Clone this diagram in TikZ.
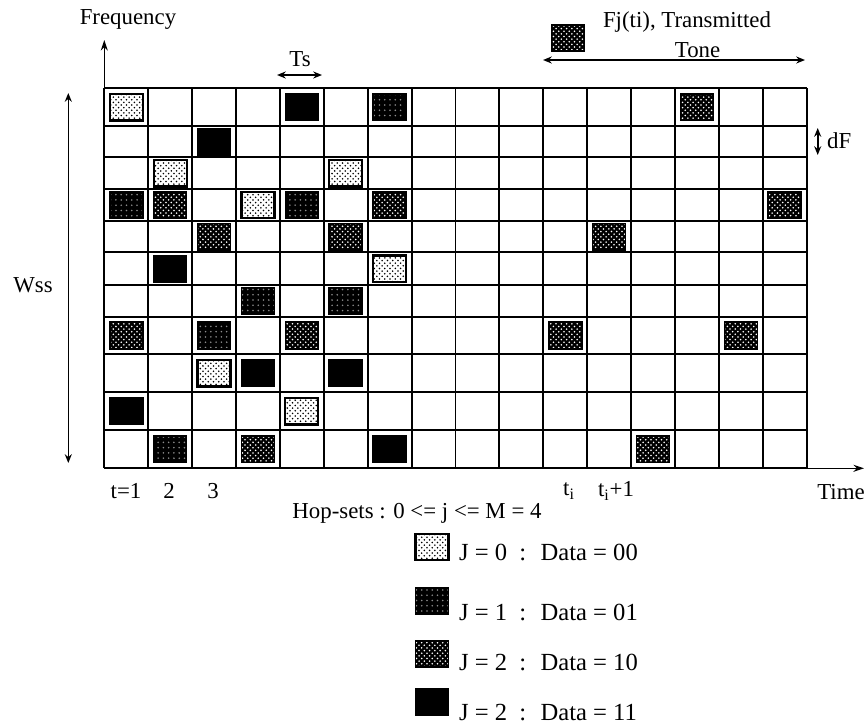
\documentclass[tikz,border=0pt]{standalone}
\usepackage{fontspec}
\setmainfont{Liberation Serif}
\usetikzlibrary{arrows.meta,patterns}

% place tones of one kind at (column/row) cells
\newcommand\tonesat[2]{%
  \foreach \c/\r in {#2} {%
    \pgfmathsetmacro\xm{104.3+43.9*(\c-0.5)}%
    \pgfmathsetmacro\ym{{107.15,141.65,173.15,205,236.65,268.65,300.85,335.5,373.3,411.15,449.15}[\r-1]}%
    \node[#1] (#1-\c-\r) at (\xm,\ym) {};
  }}

\begin{document}
\begin{tikzpicture}[x=0.02cm,y=-0.02cm,
			lbl/.style={
				font=\fontsize{13}{17}\selectfont,
				inner sep=1pt
			},
			leglbl/.style={
				lbl,
				anchor=west,
				font=\fontsize{14}{17}\selectfont
			},
			gridline/.style={
				line width=1.1pt
			},
			axis/.style={
				-{Stealth[length=6pt,width=4pt]},
				line width=0.7pt
			},
			span/.style={
				{Stealth[length=5pt,width=4pt]}-{Stealth[length=5pt,width=4pt]},
				line width=0.9pt
			},
			tone/.style={
				draw=black,
				line width=0.9pt,
				inner sep=0pt,
				minimum width=0.66cm,
				minimum height=0.53cm
			},
			toneA/.style={tone,line width=1.3pt,preaction={fill=white},pattern=crosshatch dots,pattern color=black},
			toneB/.style={tone,preaction={fill=black},pattern=dots,pattern color=black!45},
			toneC/.style={tone,preaction={fill=black},pattern=crosshatch dots,pattern color=white},
			toneD/.style={tone,fill=black}
			]
			
			\useasboundingbox (0,0) rectangle (865,727);
			
			% Grid
			\foreach \i in {0,...,16}
			\draw[gridline] ({104.3+43.9*\i},88.3) -- ({104.3+43.9*\i},468.3);
			\foreach \y in {88.3,126,157.3,189,221,252.3,285,316.7,354.3,392.3,430,468.3}
			\draw[gridline] (104.3,\y) -- (806.7,\y);
			
			% Tones
			\tonesat{toneA}{1/1,2/3,6/3,4/4,7/6,3/9,5/10}
			\tonesat{toneB}{7/1,1/4,5/4,4/7,6/7,3/8,2/11}
			\tonesat{toneC}{14/1,2/4,7/4,16/4,3/5,6/5,12/5,1/8,5/8,11/8,15/8,4/11,13/11}
			\tonesat{toneD}{5/1,3/2,2/6,4/9,6/9,1/10,7/11}
			
			% Axes
			\coordinate (origin) at (104.3,468.3);
			\coordinate (fmax) at (104.3,40);
			\coordinate (tmax) at (864,468.3);
			\draw[axis] (origin) -- (fmax);
			\draw[axis] (origin) -- (tmax);
			\node[lbl] (freq) at (128,19) {Frequency};
			\node[lbl] (time) at (841,492) {Time};
			
			% Bandwidth
			\coordinate (wsstop) at (68.3,93);
			\coordinate (wssbot) at (68.3,463);
			\draw[span] (wsstop) -- (wssbot);
			\node[lbl] (wss) at (33,285) {Wss};
			
			% Symbol time
			\coordinate (tsl) at (277,75);
			\coordinate (tsr) at (322,75);
			\draw[span] (tsl) -- (tsr);
			\node[lbl] (ts) at (300,59) {Ts};
			
			% Tone spacing
			\coordinate (dftop) at (817.7,128);
			\coordinate (dfbot) at (817.7,155);
			\draw[span] (dftop) -- (dfbot);
			\node[lbl,anchor=west] (df) at (825,141) {dF};
			
			% Transmitted tone
			\node[toneC] (txtone) at (568,38) {};
			\node[lbl,align=center] (txlbl) at (687,35) {Fj(ti), Transmitted\\\hspace*{12pt}Tone};
			\coordinate (txl) at (543,60);
			\coordinate (txr) at (805,60);
			\draw[span] (txl) -- (txr);
			
			% Time ticks
			\node[lbl] (t1) at (126,491) {t=1};
			\node[lbl] (t2) at (169,491) {2};
			\node[lbl] (t3) at (213,491) {3};
			\node[lbl] (ti) at (569,491) {t\textsubscript{i}};
			\node[lbl] (tinext) at (616,491) {t\textsubscript{i}+1};
			
			% Legend
			\node[lbl] (hop) at (417,513) {Hop-sets : 0 <= j <= M = 4};
			\node[toneA] (leg0) at (432,547) {};
			\node[toneB] (leg1) at (432,601) {};
			\node[toneC] (leg2) at (432,654) {};
			\node[toneD] (leg3) at (432,702) {};
			\node[leglbl] (leg0txt) at (457,552) {J = 0 \ : \ Data = 00};
			\node[leglbl] (leg1txt) at (457,612) {J = 1 \ : \ Data = 01};
			\node[leglbl] (leg2txt) at (457,662) {J = 2 \ : \ Data = 10};
			\node[leglbl] (leg3txt) at (457,713) {J = 2 \ : \ Data = 11};
			
		\end{tikzpicture}
\end{document}
